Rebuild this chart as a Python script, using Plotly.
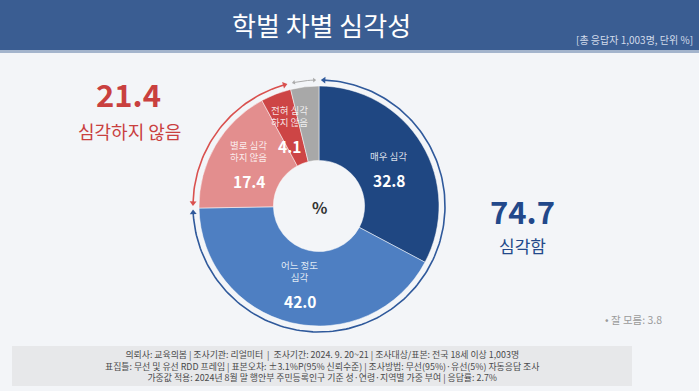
import math
import plotly.graph_objects as go

# ---- data ----
categories = ["매우 심각", "어느 정도 심각", "별로 심각하지 않음", "전혀 심각하지 않음", "잘 모름"]
slice_labels = ["매우 심각", "어느 정도<br>심각", "별로 심각<br>하지 않음", "전혀 심각<br>하지 않음", ""]
values = [32.8, 42.0, 17.4, 4.1, 3.8]
group_names = ["심각함", "심각하지 않음", "잘 모름"]
group_values = [74.7, 21.4, 3.8]

title = "학벌 차별 심각성"
subtitle = "[총 응답자 1,003명, 단위 %]"
footnotes = [
    "의뢰사: 교육의봄 | 조사기관: 리얼미터  |  조사기간: 2024. 9. 20~21 | 조사대상/표본: 전국 18세 이상 1,003명",
    "표집틀: 무선 및 유선 RDD 프레임 | 표본오차: ±3.1%P(95% 신뢰수준) | 조사방법: 무선(95%)·유선(5%) 자동응답 조사",
    "가중값 적용: 2024년 8월 말 행안부 주민등록인구 기준 성·연령·지역별 가중 부여 | 응답률: 2.7%",
]

# ---- styles ----
W, H = 699, 391
FONT = "Noto Sans CJK KR"
slice_colors = ["#1f4782", "#4e7fc2", "#e38e8e", "#cd4545", "#a8a8a8"]
ring_colors = ["#2f599b", "#d9504e", "#ababab"]
ring_widths = [1.6, 1.6, 1.0]
BG = "#f3f5f8"
NAVY = "#22488a"
RED = "#c9403f"

cx, cy, r = 319, 206, 120      # pie centre (px from top) and radius
ring_r = 126
gap_deg = 2.2


def dom(cxp, cyp, rad):
    return dict(x=[(cxp - rad) / W, (cxp + rad) / W],
                y=[(H - cyp - rad) / H, (H - cyp + rad) / H])


def ann(text, x, y, size, color, xanchor="center", yanchor="middle", **kw):
    return dict(text=text, x=x / W, y=1 - y / H, xref="paper", yref="paper",
                showarrow=False, xanchor=xanchor, yanchor=yanchor,
                font=dict(family=FONT, size=size, color=color), **kw)


def polar(deg, rad):
    t = math.radians(deg)
    return cx + rad * math.sin(t), cy - rad * math.cos(t)


fig = go.Figure()

# main donut
fig.add_trace(go.Pie(
    values=values, labels=categories, sort=False, direction="clockwise",
    rotation=0, hole=0.38, domain=dom(cx, cy, r),
    marker=dict(colors=slice_colors, line=dict(color="white", width=0.5)),
    textinfo="none", hoverinfo="label+value", showlegend=False,
))

# outer double-headed arcs for the grouped totals (angles derived from group_values)
gtotal = sum(group_values)
acc = 0.0
for gv, col, lw in zip(group_values, ring_colors, ring_widths):
    a0 = acc / gtotal * 360 + gap_deg
    a1 = (acc + gv) / gtotal * 360 - gap_deg
    acc += gv
    n = max(4, int((a1 - a0) / 1.5))
    angs = [a0 + (a1 - a0) * i / n for i in range(n + 1)]
    pts = [polar(a, ring_r) for a in angs]
    fig.add_trace(go.Scatter(
        x=[p[0] for p in pts], y=[p[1] for p in pts], mode="lines",
        line=dict(color=col, width=lw), hoverinfo="skip", showlegend=False,
        xaxis="x", yaxis="y",
    ))
    ends = [polar(a0, ring_r), polar(a1, ring_r)]
    fig.add_trace(go.Scatter(
        x=[e[0] for e in ends], y=[e[1] for e in ends], mode="markers",
        marker=dict(symbol="triangle-up", size=6 if lw > 1.2 else 4, color=col,
                    angle=[a0 - 90, a1 + 90], line=dict(width=0)),
        hoverinfo="skip", showlegend=False, xaxis="x", yaxis="y",
    ))

annotations = []
shapes = []

# header band
shapes.append(dict(type="rect", xref="paper", yref="paper", x0=0, x1=1,
                   y0=1 - 50 / H, y1=1, fillcolor="#3a5d92", line=dict(width=0), layer="below"))
shapes.append(dict(type="rect", xref="paper", yref="paper", x0=0, x1=1,
                   y0=1 - 53 / H, y1=1 - 50 / H, fillcolor="#a3b4cc", line=dict(width=0), layer="below"))
# footnote box
shapes.append(dict(type="rect", xref="paper", yref="paper", x0=12 / W, x1=632 / W,
                   y0=1 - 386 / H, y1=1 - 346 / H, fillcolor="#e7e8ea", line=dict(width=0), layer="below"))

annotations.append(ann(title, 321, 25, 26, "white"))
annotations.append(ann(subtitle, 695, 39, 10, "#d2dbea", xanchor="right"))

# slice labels, placed at mid angle of each slice
total = sum(values)
cum = 0.0
for lab, v in zip(slice_labels, values):
    mid = (cum + v / 2) / total * 360
    cum += v
    if not lab:
        continue
    px, py = polar(mid, 0.68 * r)
    annotations.append(ann(lab, px, py + 1, 9.5, "rgba(255,255,255,0.85)", yanchor="bottom"))
    annotations.append(ann("<b>%.1f</b>" % v, px, py + 3, 15.5, "white", yanchor="top"))

annotations.append(ann("<b>%</b>", cx, cy + 1, 16, "#333333"))

# group totals
annotations.append(ann("<b>%.1f</b>" % group_values[1], 128, 93, 31, RED))
annotations.append(ann(group_names[1], 129, 131, 18, RED))
annotations.append(ann("<b>%.1f</b>" % group_values[0], 522, 210, 31, NAVY))
annotations.append(ann(group_names[0], 522, 246, 17, NAVY))
annotations.append(ann("• %s: %.1f" % (group_names[2], group_values[2]), 664, 319, 10.5, "#9a9a9a",
                       xanchor="right"))

annotations.append(ann("<br>".join(footnotes), 322, 365.5, 8.9, "#4a4a4a", align="center"))

fig.update_layout(
    width=W, height=H, margin=dict(l=0, r=0, t=0, b=0),
    paper_bgcolor=BG, plot_bgcolor="rgba(0,0,0,0)",
    xaxis=dict(range=[0, W], visible=False, fixedrange=True, domain=[0, 1]),
    yaxis=dict(range=[H, 0], visible=False, fixedrange=True, domain=[0, 1]),
    shapes=shapes, annotations=annotations, showlegend=False,
)

fig.write_html("out.html", config={"displayModeBar": False},
               post_script="document.body.style.margin='0';document.body.style.overflow='hidden';")
